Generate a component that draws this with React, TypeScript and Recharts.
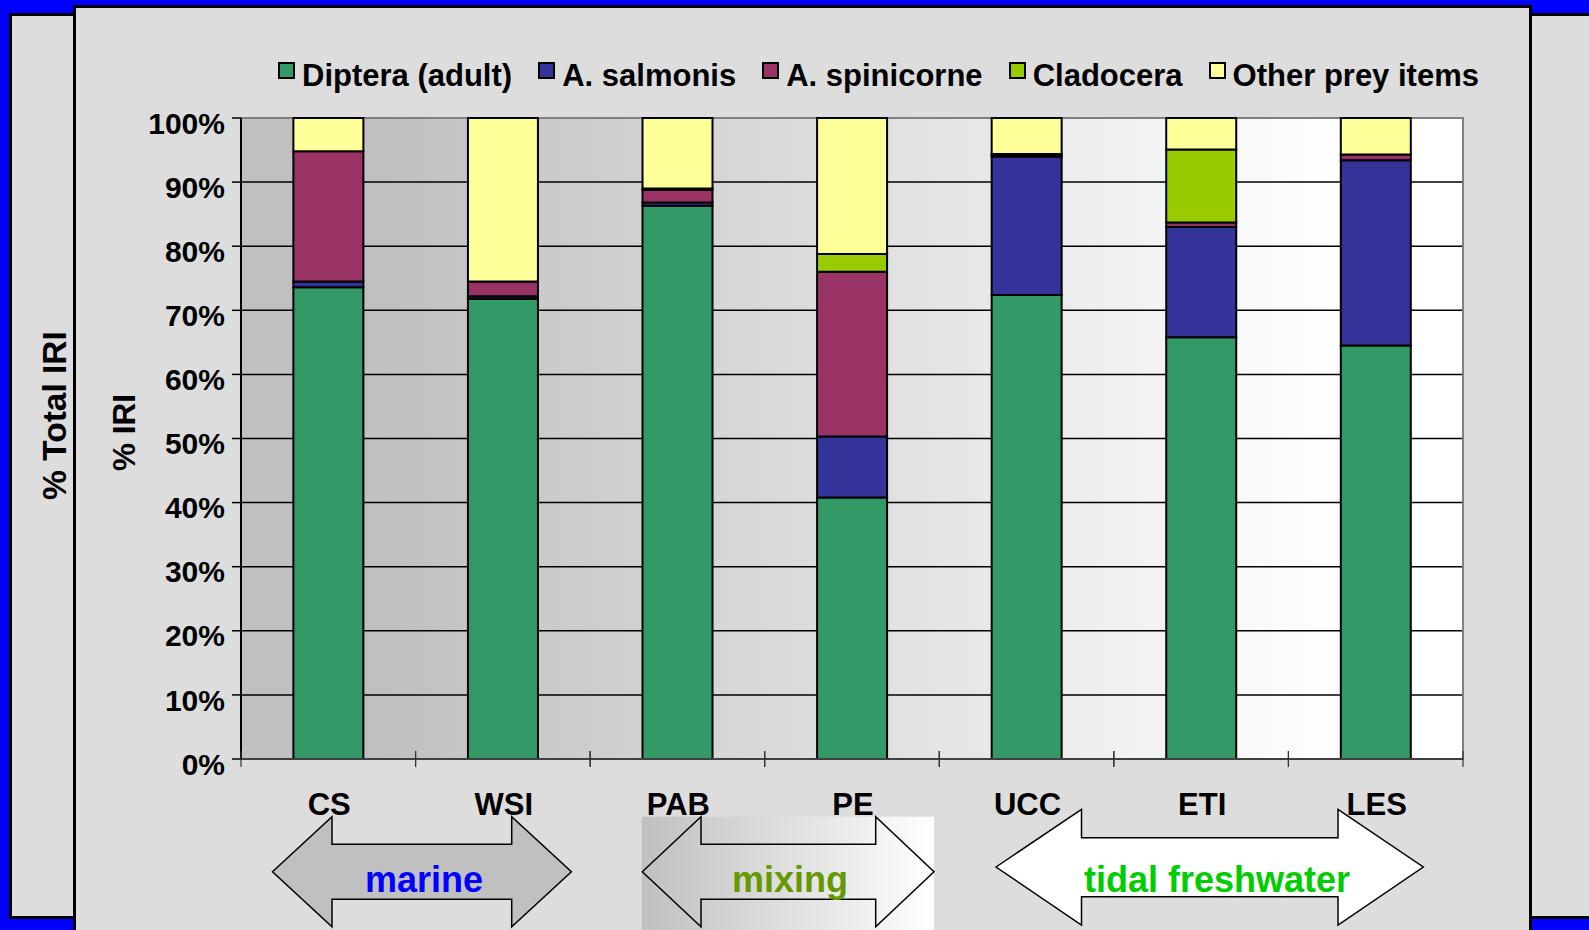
import React from 'react';
import { BarChart, Bar, XAxis, YAxis, CartesianGrid, ReferenceArea } from 'recharts';

const categories = ['CS', 'WSI', 'PAB', 'PE', 'UCC', 'ETI', 'LES'];
const dipteraAdult = [73.6, 71.8, 86.3, 40.8, 72.4, 65.8, 64.5];
const aSalmonis = [0.9, 0.4, 0.5, 9.5, 21.6, 17.2, 28.9];
const aSpinicorne = [20.3, 2.3, 2.0, 25.7, 0.2, 0.7, 0.9];
const cladocera = [0, 0, 0.2, 2.8, 0.2, 11.4, 0];
const otherPrey = [5.2, 25.5, 11.0, 21.2, 5.6, 4.9, 5.7];

const seriesKeys = ['diptera', 'salmonis', 'spinicorne', 'cladocera', 'other'];
const seriesNames = ['Diptera (adult)', 'A. salmonis', 'A. spinicorne', 'Cladocera', 'Other prey items'];
const seriesColors = ['#339966', '#333399', '#993366', '#99CC00', '#FFFF99'];
const yTicks = [0, 10, 20, 30, 40, 50, 60, 70, 80, 90, 100];
const zoneLabels = ['marine', 'mixing', 'tidal freshwater'];
const zoneColors = ['#0000FF', '#669900', '#00CC00'];

const data = categories.map((name, i) => ({
  name,
  diptera: dipteraAdult[i],
  salmonis: aSalmonis[i],
  spinicorne: aSpinicorne[i],
  cladocera: cladocera[i],
  other: otherPrey[i],
}));

const FONT = '"Liberation Sans", Arial, Helvetica, sans-serif';

function arrowPts(xl: number, xil: number, xir: number, xr: number, yc: number, ht: number, st: number, sb: number, hb: number) {
  return [
    [xl, yc], [xil, ht], [xil, st], [xir, st], [xir, ht], [xr, yc], [xir, hb], [xir, sb], [xil, sb], [xil, hb],
  ].map((p) => p.join(',')).join(' ');
}

const YTick = (p: any) => (
  <text x={p.x} y={p.y + 5} dy="0.355em" textAnchor="end" fontFamily={FONT} fontWeight="bold" fontSize={30} fill="#000">
    {p.payload.value}%
  </text>
);

const XTick = (p: any) => {
  const off = p.payload && typeof p.payload.offset === 'number' ? p.payload.offset : 1222 / categories.length / 2;
  return (
    <g>
      <line x1={p.x - off} x2={p.x - off} y1={p.y - 8} y2={p.y + 8} stroke="#333" strokeWidth={1.2} />
      <line x1={p.x + off} x2={p.x + off} y1={p.y - 8} y2={p.y + 8} stroke="#333" strokeWidth={1.2} />
      <text x={p.x + 1} y={p.y + 56} textAnchor="middle" fontFamily={FONT} fontWeight="bold" fontSize={31} fill="#000">
        {p.payload.value}
      </text>
    </g>
  );
};

export default function App() {
  return (
    <div style={{ position: 'relative', width: 1589, height: 930, background: '#0000FF', overflow: 'hidden', fontFamily: FONT }}>
      <style>{'body{margin:0}'}</style>
      {/* back panel */}
      <div style={{ position: 'absolute', left: 9, top: 13, width: 1650, height: 906, background: '#DDDDDD', border: '3px solid #000', boxSizing: 'border-box' }} />
      {/* front panel */}
      <div style={{ position: 'absolute', left: 73, top: 5, width: 1459, height: 1000, background: '#DDDDDD', border: '3px solid #000', boxSizing: 'border-box' }} />

      {/* legend */}
      <div style={{ position: 'absolute', left: 278, top: 60, width: 1201, display: 'flex', justifyContent: 'space-between', alignItems: 'flex-start' }}>
        {seriesNames.map((n, i) => (
          <div key={n} style={{ display: 'flex', alignItems: 'flex-start' }}>
            <div style={{ width: 17, height: 17, marginTop: 2, background: seriesColors[i], border: '2px solid #000', boxSizing: 'border-box' }} />
            <span style={{ marginLeft: 7, fontSize: 31, lineHeight: '31px', fontWeight: 'bold', color: '#000', whiteSpace: 'nowrap' }}>{n}</span>
          </div>
        ))}
      </div>

      <div style={{ position: 'absolute', left: 0, top: 0 }}>
        <BarChart
          width={1589}
          height={930}
          data={data}
          margin={{ top: 118, right: 126, bottom: 111, left: 141 }}
          barCategoryGap="30%"
        >
          <defs>
            <linearGradient id="plotBg" x1="0" y1="0" x2="1" y2="0">
              <stop offset="0.12" stopColor="#C0C0C0" />
              <stop offset="0.9" stopColor="#FFFFFF" />
            </linearGradient>
          </defs>
          <CartesianGrid vertical={false} stroke="#000" strokeWidth={1.5} fill="url(#plotBg)" fillOpacity={1} />
          <ReferenceArea y1={0} y2={100} fill="none" fillOpacity={0} stroke="#808080" strokeWidth={2} ifOverflow="visible" />
          <XAxis
            dataKey="name"
            height={60}
            axisLine={{ stroke: '#404040', strokeWidth: 2 }}
            tickLine={false}
            tickSize={0}
            tickMargin={0}
            tick={XTick}
            interval={0}
          />
          <YAxis
            width={100}
            domain={[0, 100]}
            ticks={yTicks}
            interval={0}
            axisLine={{ stroke: '#000', strokeWidth: 2 }}
            tickLine={{ stroke: '#000', strokeWidth: 1.5 }}
            tickSize={9}
            tickMargin={7}
            tick={YTick}
          />
          {seriesKeys.map((k, i) => (
            <Bar
              key={k}
              dataKey={k}
              name={seriesNames[i]}
              stackId="s"
              fill={seriesColors[i]}
              stroke="#000"
              strokeWidth={2}
              isAnimationActive={false}
            />
          ))}
        </BarChart>
      </div>

      {/* overlay: axis titles and zone arrows */}
      <svg width={1589} height={930} style={{ position: 'absolute', left: 0, top: 0, pointerEvents: 'none' }}>
        <defs>
          <linearGradient id="mixGrad" x1="0" y1="0" x2="1" y2="0">
            <stop offset="0" stopColor="#C0C0C0" />
            <stop offset="1" stopColor="#FFFFFF" />
          </linearGradient>
        </defs>
        <text transform="translate(66,415.5) rotate(-90)" textAnchor="middle" fontFamily={FONT} fontWeight="bold" fontSize={33.5} fill="#000">
          % Total IRI
        </text>
        <text transform="translate(135,432.5) rotate(-90)" textAnchor="middle" fontFamily={FONT} fontWeight="bold" fontSize={31.5} fill="#000">
          % IRI
        </text>

        <polygon points={arrowPts(272.5, 332, 511.7, 571.4, 871.7, 816.7, 844.3, 899.3, 926.7)} fill="#C0C0C0" stroke="#000" strokeWidth={1.5} />
        <text x={424} y={891.7} textAnchor="middle" fontFamily={FONT} fontWeight="bold" fontSize={36} fill={zoneColors[0]}>{zoneLabels[0]}</text>

        <rect x={641.7} y={816.7} width={292.3} height={115} fill="url(#mixGrad)" />
        <polygon points={arrowPts(642.3, 701, 875.7, 934, 871.7, 816.7, 844.3, 899.3, 926.7)} fill="none" stroke="#000" strokeWidth={1.5} />
        <text x={790} y={891.7} textAnchor="middle" fontFamily={FONT} fontWeight="bold" fontSize={36} fill={zoneColors[1]}>{zoneLabels[1]}</text>

        <polygon points={arrowPts(996, 1081.5, 1338, 1423.3, 867, 809.3, 837.7, 896.7, 925)} fill="#FFFFFF" stroke="#000" strokeWidth={1.5} />
        <text x={1217} y={891.7} textAnchor="middle" fontFamily={FONT} fontWeight="bold" fontSize={36} fill={zoneColors[2]}>{zoneLabels[2]}</text>
      </svg>
    </div>
  );
}
